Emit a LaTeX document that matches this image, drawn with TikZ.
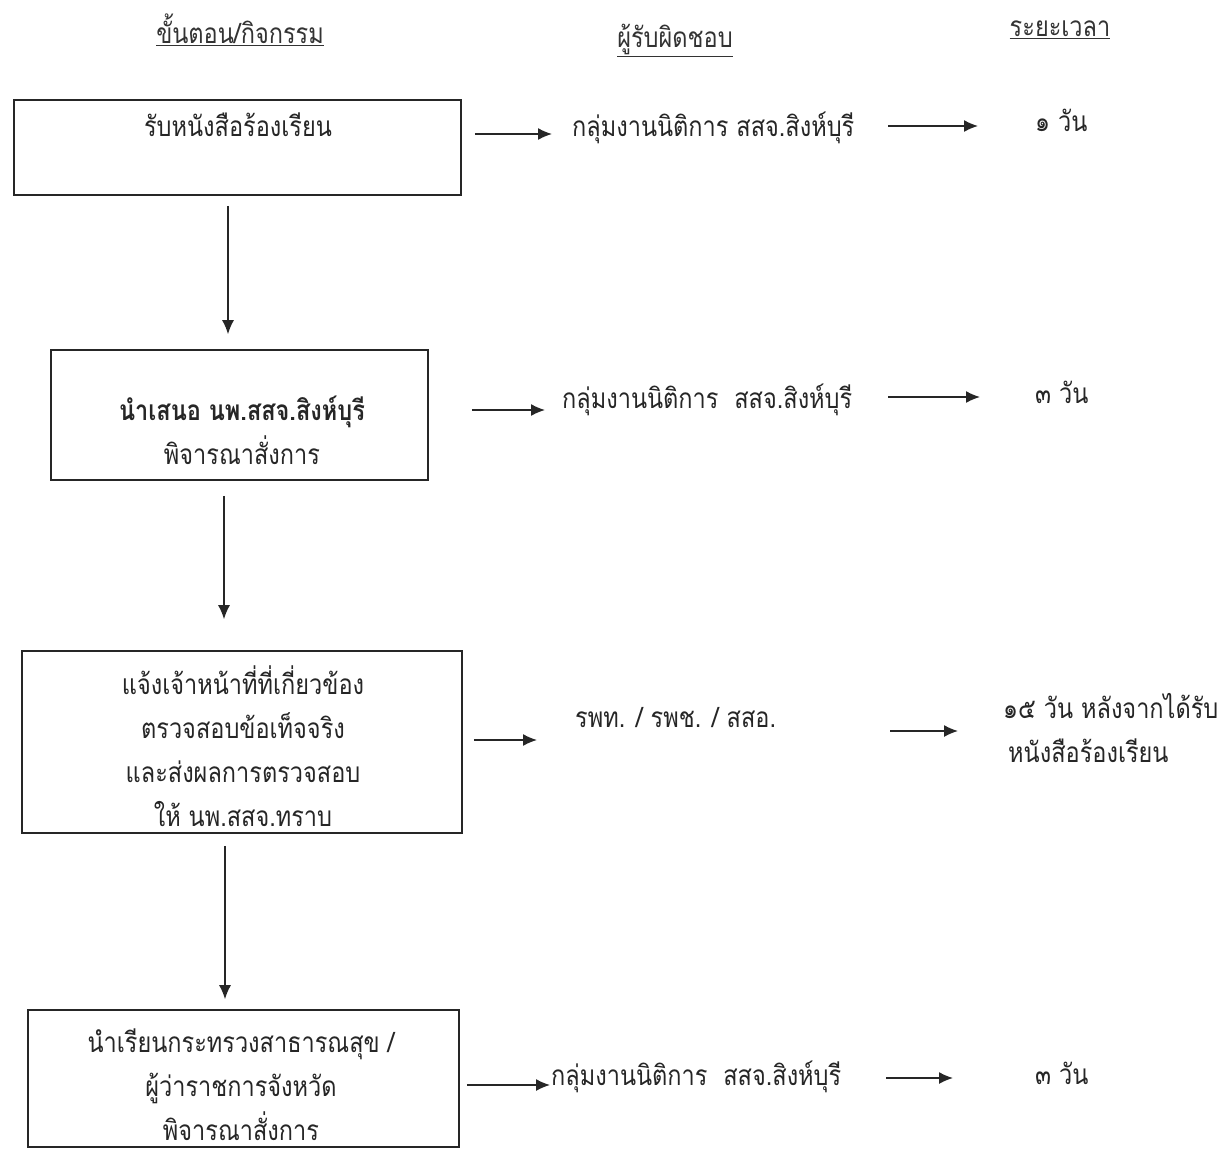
\documentclass[tikz,border=0pt]{standalone}
\usepackage{fontspec}
\usepackage{tikz}
\newfontfamily\thaifont[Script=Thai,FakeStretch=0.84]{Loma}
\usetikzlibrary{arrows.meta, calc, positioning}
\newcommand{\thaitext}{\thaifont\fontsize{28}{44}\selectfont}

\tikzset{
  stepbox/.style={draw=black!85, line width=1.6pt, inner sep=0pt},
  boxtext/.style={align=center, inner sep=0pt, text=black!85, font=\thaitext},
  lbl/.style={anchor=west, inner sep=0pt, text=black!85, font=\thaitext},
  head/.style={inner sep=0pt, text=black!80, font=\thaitext},
  flow/.style={-{Latex[length=14pt,width=12pt]}, line width=1.4pt, draw=black!85},
}

\begin{document}
\begin{tikzpicture}[x=1pt, y=-1pt]
  \useasboundingbox (0,0) rectangle (1223,1152);

  % column headings
  \node[head] (h1) at (240,30) {\underline{ขั้นตอน/กิจกรรม}};
  \node[head] (h2) at (675,40) {\underline{ผู้รับผิดชอบ}};
  \node[head] (h3) at (1060,30) {\underline{ระยะเวลา}};

  % steps
  \node[stepbox, minimum width=447, minimum height=95] (s1) at (237.5,147.5) {};
  \node[boxtext] (s1txt) at (238,125) {รับหนังสือร้องเรียน};

  \node[stepbox, minimum width=377, minimum height=130] (s2) at (239.5,415) {};
  \node[boxtext] (s2txt) at (242,430) {\bfseries นำเสนอ นพ.สสจ.สิงห์บุรี\\พิจารณาสั่งการ};

  \node[stepbox, minimum width=440, minimum height=182] (s3) at (242,742) {};
  \node[boxtext] (s3txt) at (243,746) {แจ้งเจ้าหน้าที่ที่เกี่ยวข้อง\\ตรวจสอบข้อเท็จจริง\\และส่งผลการตรวจสอบ\\ให้ นพ.สสจ.ทราบ};

  \node[stepbox, minimum width=431, minimum height=137] (s4) at (243.5,1078.5) {};
  \node[boxtext] (s4txt) at (241,1085) {นำเรียนกระทรวงสาธารณสุข /\\ผู้ว่าราชการจังหวัด\\พิจารณาสั่งการ};

  % responsible
  \node[lbl] (r1) at (572,128) {กลุ่มงานนิติการ สสจ.สิงห์บุรี};
  \node[lbl] (r2) at (562,400) {กลุ่มงานนิติการ~ สสจ.สิงห์บุรี};
  \node[lbl] (r3) at (575,718) {รพท. / รพช. / สสอ.};
  \node[lbl] (r4) at (551,1077) {กลุ่มงานนิติการ~ สสจ.สิงห์บุรี};

  % time
  \node[lbl] (t1) at (1035,120) {๑ วัน};
  \node[lbl] (t2) at (1035,392) {๓ วัน};
  \node[lbl, align=left] (t3) at (1003,728) {๑๕ วัน หลังจากได้รับ\\\hspace{5pt}หนังสือร้องเรียน};
  \node[lbl] (t4) at (1035,1073) {๓ วัน};

  % step to step
  \draw[flow] ($(s1.south)+(-9.5,10)$) -- ($(s2.north)+(-11.5,-15)$);
  \draw[flow] ($(s2.south)+(-15.5,15)$) -- ($(s3.north)+(-18,-31)$);
  \draw[flow] ($(s3.south)+(-17,12)$) -- ($(s4.north)+(-18.5,-10)$);

  % step to responsible
  \draw[flow] ($(s1.east)+(13,-13.5)$) -- ($(r1.west)+(-20,6)$);
  \draw[flow] ($(s2.east)+(43,-5)$) -- ($(r2.west)+(-17,10)$);
  \draw[flow] ($(s3.east)+(11,-2)$) -- ($(r3.west)+(-38,22)$);
  \draw[flow] ($(s4.east)+(7,6.5)$) -- ($(r4.west)+(-1,8)$);

  % responsible to time
  \draw[flow] ($(t1.west)+(-147,6)$) -- ($(t1.west)+(-57,6)$);
  \draw[flow] ($(t2.west)+(-147,5)$) -- ($(t2.west)+(-55,5)$);
  \draw[flow] ($(t3.west)+(-113,3)$) -- ($(t3.west)+(-45,3)$);
  \draw[flow] ($(t4.west)+(-149,5)$) -- ($(t4.west)+(-82,5)$);
\end{tikzpicture}
\end{document}
